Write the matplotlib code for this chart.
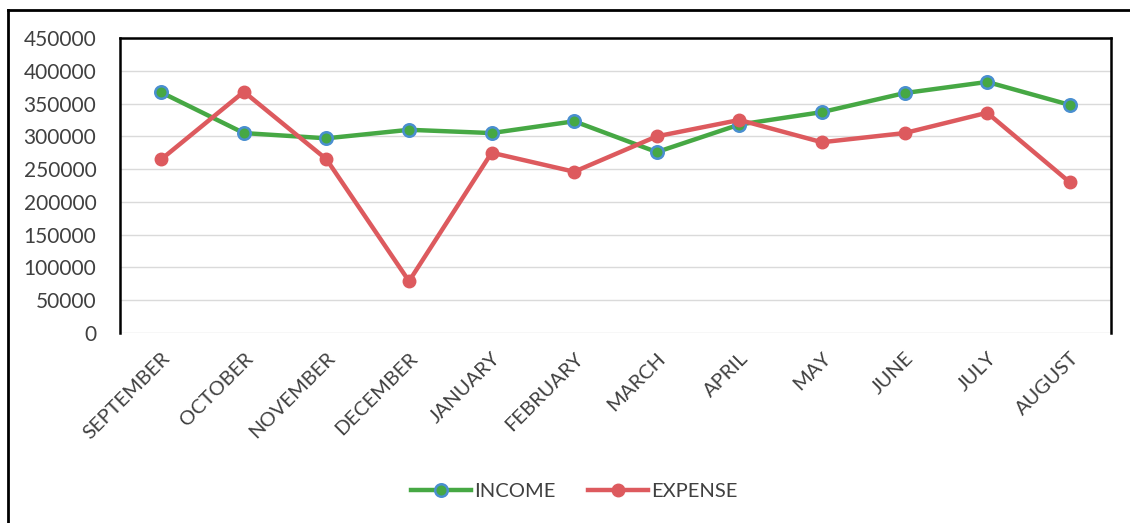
"""Monthly income vs expense line chart."""
import matplotlib
matplotlib.use("Agg")
import matplotlib.pyplot as plt
from matplotlib.lines import Line2D

months = ["SEPTEMBER", "OCTOBER", "NOVEMBER", "DECEMBER", "JANUARY", "FEBRUARY",
          "MARCH", "APRIL", "MAY", "JUNE", "JULY", "AUGUST"]
income = [367000, 305000, 297000, 310000, 305000, 323000,
          276000, 318000, 337000, 366000, 383000, 348000]
expense = [265000, 368000, 265000, 79000, 275000, 246000,
           300000, 325000, 291000, 305000, 336000, 230000]
yticks = list(range(0, 450001, 50000))

GREEN = "#46A844"
BLUE = "#4A8FD0"
RED = "#DD5A5E"
TXT = "#404040"

plt.rcParams["font.family"] = ["Lato", "DejaVu Sans"]

fig = plt.figure(figsize=(11.3, 5.23), dpi=100)
ax = fig.add_axes([0.1062, 0.3633, 0.877, 0.564])

x = range(len(months))
ax.plot(x, income, color=GREEN, lw=3.2, marker="o", ms=9,
        mfc=GREEN, mec=BLUE, mew=1.8, zorder=3, label="INCOME")
ax.plot(x, expense, color=RED, lw=3.2, marker="o", ms=9,
        mfc=RED, mec=RED, zorder=3, label="EXPENSE")

ax.set_xlim(-0.5, len(months) - 0.5)
ax.set_ylim(0, 450000)
ax.set_yticks(yticks)
ax.set_yticklabels([str(v) for v in yticks], fontsize=15, color=TXT)
ax.set_xticks(list(x))
ax.set_xticklabels(months, rotation=45, ha="right", rotation_mode="anchor",
                   fontsize=14.5, color=TXT)
ax.tick_params(axis="y", length=0, pad=17)
ax.tick_params(axis="x", length=0, pad=12)

ax.grid(axis="y", color="#DADADA", lw=1)
ax.set_axisbelow(True)
for s in ("left", "top", "right"):
    ax.spines[s].set_color("black")
    ax.spines[s].set_linewidth(1.8)
ax.spines["bottom"].set_visible(False)

# legend
handles = [
    Line2D([], [], color=GREEN, lw=3.2, marker="o", ms=9, mfc=GREEN, mec=BLUE, mew=1.8),
    Line2D([], [], color=RED, lw=3.2, marker="o", ms=9, mfc=RED, mec=RED),
]
fig.legend(handles, ["INCOME", "EXPENSE"], loc="center", bbox_to_anchor=(0.508, 0.06),
           ncol=2, frameon=False, fontsize=14.5, labelcolor=TXT,
           handlelength=3.0, handletextpad=0.15, columnspacing=1.6)

# outer chart frame (cropped on right/bottom)
fig.add_artist(Line2D([0.0075, 0.0075], [0.0, 0.981], color="black", lw=2,
                      transform=fig.transFigure))
fig.add_artist(Line2D([0.0075, 1.0], [0.981, 0.981], color="black", lw=2,
                      transform=fig.transFigure))

fig.savefig("out.png", dpi=100)
